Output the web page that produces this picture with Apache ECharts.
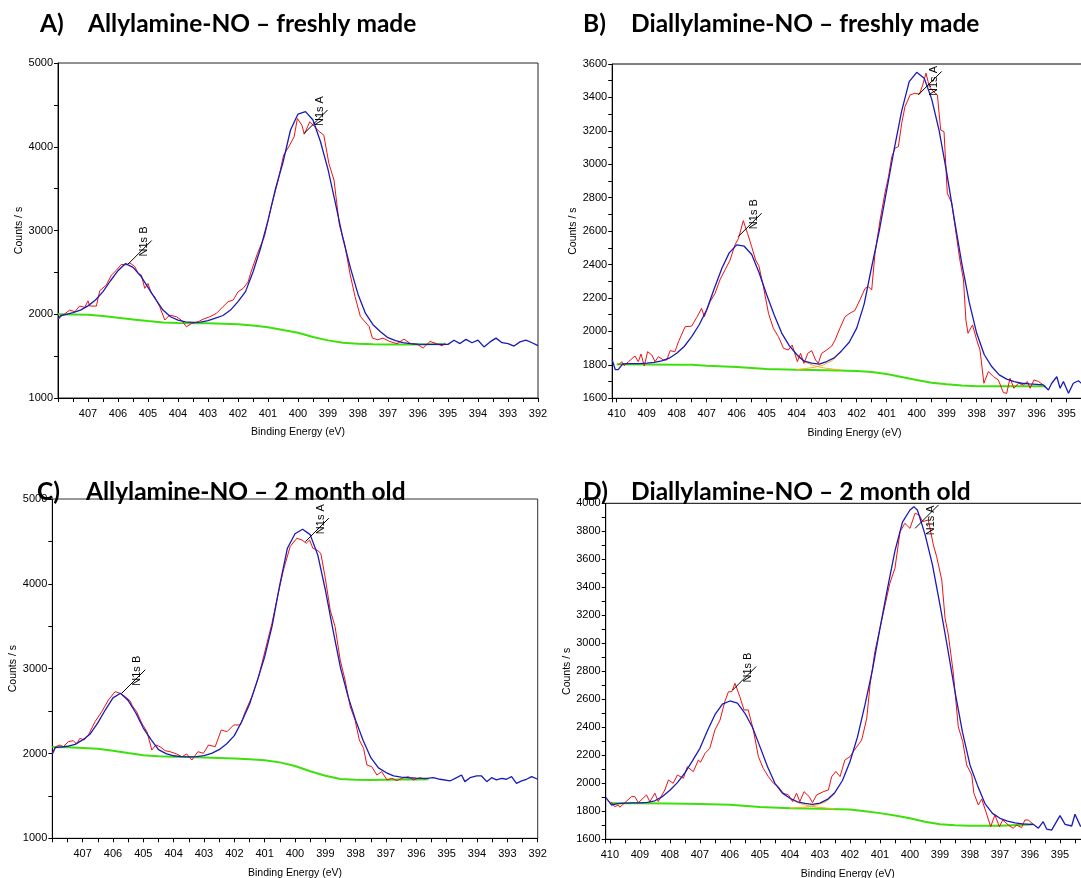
<!DOCTYPE html>
<html><head><meta charset="utf-8">
<script src="https://cdn.jsdelivr.net/npm/echarts@6/dist/echarts.min.js"></script>
<style>html,body{margin:0;padding:0;background:#fff}#c{width:1081px;height:878px}</style>
</head><body><div id="c"></div>
<script>
// ---------------- Panel A : Allylamine-NO – freshly made ----------------
const aRawE = [408.00,407.83,407.61,407.44,407.28,407.11,407.00,406.94,406.72,406.61,406.39,406.22,406.05,405.89,405.72,405.61,405.44,405.33,405.22,405.11,405.00,404.89,404.78,404.61,404.44,404.28,404.05,403.89,403.72,403.55,403.33,403.17,402.94,402.72,402.50,402.33,402.16,402.00,401.83,401.66,401.58,401.35,401.12,400.89,400.66,400.48,400.31,400.13,400.02,399.87,399.79,399.61,399.44,399.32,399.14,398.97,398.80,398.62,398.45,398.27,398.10,397.92,397.63,397.52,397.34,397.17,396.94,396.70,396.47,396.24,396.00,395.83,395.60,395.37,395.20,395.08];
const aRawC = [1950,1990,2050,2030,2098,2082,2160,2098,2098,2280,2348,2467,2527,2595,2590,2614,2570,2487,2467,2309,2368,2249,2209,2090,1931,1990,1970,1931,1851,1890,1910,1940,1970,2010,2090,2150,2169,2268,2308,2388,2490,2728,2926,3284,3602,3900,3999,4118,4337,4257,4150,4297,4237,4190,4138,3800,3602,3065,2850,2490,2212,1973,1854,1715,1695,1715,1675,1648,1703,1648,1636,1596,1675,1648,1624,1656];
const aFitE = [408.00,407.90,407.75,407.50,407.25,407.00,406.75,406.50,406.25,406.00,405.75,405.50,405.25,405.00,404.75,404.50,404.25,404.00,403.75,403.50,403.25,403.00,402.75,402.50,402.25,402.00,401.75,401.50,401.25,401.00,400.75,400.50,400.25,400.00,399.75,399.50,399.25,399.00,398.75,398.50,398.25,398.00,397.75,397.50,397.25,397.00,396.75,396.50,396.25,396.00,395.75,395.50,395.25,395.00,394.80,394.60,394.40,394.20,394.00,393.80,393.60,393.40,393.20,393.00,392.80,392.60,392.40,392.20,392.00];
const aFitC = [1940,1985,1995,2020,2050,2100,2170,2270,2400,2520,2605,2560,2460,2320,2180,2050,1970,1930,1910,1903,1905,1925,1955,1985,2050,2150,2270,2505,2785,3120,3500,3815,4200,4390,4420,4320,4060,3730,3320,2900,2550,2240,2010,1875,1790,1720,1685,1662,1650,1643,1640,1640,1640,1640,1690,1650,1700,1660,1690,1610,1670,1715,1660,1650,1620,1670,1690,1660,1625];
const aBgE = [408.0,407.5,407.0,406.5,406.0,405.5,405.0,404.5,404.0,403.5,403.0,402.5,402.0,401.5,401.0,400.5,400.0,399.5,399.0,398.5,398.0,397.5,397.0,396.5,396.0,395.5,395.1];
const aBgC = [2000,1998,1995,1980,1958,1938,1918,1902,1897,1894,1892,1888,1882,1865,1845,1812,1780,1728,1688,1660,1647,1642,1640,1640,1640,1641,1643];
const aPeaks = [[405.66,2600,'N1s B'],[399.80,4158,'N1s A']];

// ---------------- Panel B : Diallylamine-NO – freshly made ----------------
const bRawE = [409.94,409.83,409.75,409.61,409.39,409.28,409.19,409.08,408.97,408.83,408.72,408.61,408.44,408.33,408.22,408.06,407.94,407.72,407.50,407.33,407.17,407.08,406.89,406.72,406.56,406.39,406.22,406.06,405.94,405.78,405.64,405.50,405.37,405.26,405.11,404.94,404.78,404.61,404.44,404.28,404.15,403.98,403.87,403.76,403.63,403.50,403.37,403.28,403.17,403.00,402.83,402.72,402.56,402.39,402.22,402.06,401.89,401.72,401.61,401.50,401.39,401.22,401.06,400.94,400.83,400.72,400.61,400.50,400.39,400.22,400.06,399.91,399.80,399.69,399.58,399.44,399.31,399.20,399.09,398.98,398.83,398.69,398.56,398.44,398.36,398.29,398.14,398.00,397.89,397.76,397.61,397.44,397.28,397.11,397.00,396.89,396.76,396.61,396.44,396.31,396.22,396.09,395.94,395.78];
const bRawC = [1799,1819,1795,1819,1853,1819,1865,1793,1879,1859,1819,1849,1829,1829,1885,1879,1939,2028,2032,2084,2138,2088,2178,2228,2308,2368,2427,2517,2557,2663,2587,2507,2427,2392,2268,2108,2019,1969,1899,1889,1919,1819,1869,1809,1869,1885,1829,1809,1869,1889,1913,1949,2019,2088,2110,2125,2190,2258,2268,2248,2467,2667,2827,2926,3046,3096,3106,3245,3345,3415,3425,3420,3474,3545,3464,3435,3415,3205,3195,2827,2767,2587,2427,2308,2068,1989,2039,1949,1889,1690,1760,1729,1710,1634,1630,1720,1660,1690,1680,1700,1660,1710,1700,1680];
const bFitE = [410.15,410.05,409.95,409.80,409.50,409.25,409.00,408.75,408.50,408.25,408.00,407.75,407.50,407.25,407.00,406.75,406.50,406.25,406.00,405.75,405.50,405.25,405.00,404.75,404.50,404.25,404.00,403.75,403.50,403.25,403.00,402.75,402.50,402.25,402.00,401.75,401.50,401.25,401.00,400.75,400.50,400.25,400.00,399.75,399.50,399.25,399.00,398.75,398.50,398.25,398.00,397.75,397.50,397.25,397.00,396.75,396.50,396.25,396.00,395.78,395.61,395.50,395.33,395.22,395.11,394.94,394.78,394.61,394.45];
const bFitC = [1830,1772,1772,1806,1808,1808,1810,1815,1824,1840,1870,1910,1969,2040,2130,2255,2375,2470,2518,2510,2460,2350,2220,2098,1990,1915,1862,1822,1810,1805,1820,1842,1885,1935,2020,2165,2387,2600,2846,3090,3320,3495,3550,3515,3390,3200,2950,2675,2410,2175,1989,1862,1790,1740,1715,1700,1690,1686,1683,1680,1650,1690,1729,1660,1700,1630,1690,1705,1680];
const bBgE = [410.0,409.0,408.0,407.5,407.0,406.0,405.0,404.0,403.0,402.0,401.5,401.0,400.5,400.0,399.5,399.0,398.5,398.0,397.0,396.0,395.7];
const bBgC = [1803,1802,1801,1800,1795,1787,1775,1771,1768,1763,1757,1745,1728,1710,1693,1684,1676,1672,1672,1672,1672];
const bCompBE = [404.0,403.7,403.4,403.1,402.8,402.5];
const bCompBC = [1852,1815,1794,1782,1775,1769];
const bCompAE = [404.0,403.7,403.4,403.1,402.8,402.5];
const bCompAC = [1773,1778,1786,1800,1828,1880];
const bPeaks = [[405.95,2567,'N1s B'],[399.95,3415,'N1s A']];

// ---------------- Panel C : Allylamine-NO – 2 month old ----------------
const cRawE = [408.00,407.89,407.75,407.64,407.47,407.31,407.20,407.09,406.95,406.81,406.59,406.37,406.15,405.93,405.77,405.60,405.44,405.36,405.22,405.05,404.88,404.72,404.59,404.45,404.28,404.12,403.90,403.73,403.57,403.40,403.20,403.02,402.85,402.63,402.43,402.24,402.02,401.80,401.64,401.42,401.20,400.98,400.76,400.54,400.38,400.16,399.94,399.77,399.63,399.52,399.41,399.28,399.15,399.00,398.84,398.68,398.51,398.35,398.18,398.02,397.88,397.74,397.63,397.47,397.30,397.14,396.97,396.81,396.64,396.48,396.26,396.10,395.88,395.71];
const cRawC = [2002,2080,2100,2080,2139,2151,2112,2179,2159,2218,2375,2493,2631,2729,2710,2670,2623,2560,2493,2356,2257,2041,2100,2080,2033,2021,1994,1961,1994,1923,2021,2002,2100,2080,2277,2257,2336,2336,2493,2670,2905,3220,3535,3910,4163,4440,4537,4517,4478,4517,4419,4400,4360,4065,3692,3496,3102,2866,2551,2394,2159,2061,1864,1844,1746,1786,1688,1707,1680,1707,1727,1688,1715,1696];
const cFitE = [408.00,407.90,407.75,407.50,407.25,407.00,406.75,406.50,406.25,406.00,405.75,405.50,405.25,405.00,404.75,404.50,404.25,404.00,403.75,403.50,403.25,403.00,402.75,402.50,402.25,402.00,401.75,401.50,401.25,401.00,400.75,400.50,400.25,400.00,399.75,399.50,399.25,399.00,398.75,398.50,398.25,398.00,397.75,397.50,397.25,397.00,396.75,396.50,396.25,396.00,395.65,395.44,395.22,394.89,394.67,394.51,394.40,394.23,394.01,393.85,393.68,393.52,393.36,393.19,393.03,392.86,392.70,392.53,392.37,392.20,392.00];
const cFitC = [1990,2070,2076,2085,2108,2160,2230,2360,2515,2655,2710,2625,2480,2300,2165,2045,1998,1973,1964,1961,1964,1975,2002,2045,2115,2210,2380,2580,2850,3140,3510,3990,4420,4590,4643,4580,4340,3930,3460,3010,2670,2390,2150,1950,1830,1775,1735,1722,1714,1710,1707,1715,1696,1676,1715,1746,1668,1715,1735,1735,1668,1715,1688,1707,1696,1727,1648,1676,1696,1727,1696];
const cBgE = [408.0,407.5,407.0,406.5,406.0,405.5,405.0,404.5,404.0,403.5,403.0,402.5,402.0,401.5,401.0,400.5,400.0,399.5,399.0,398.5,398.0,397.5,397.0,396.5,396.0,395.6];
const cBgC = [2075,2072,2065,2055,2032,2005,1980,1966,1960,1957,1953,1948,1940,1932,1920,1895,1852,1790,1738,1700,1690,1688,1690,1692,1694,1696];
const cPeaks = [[405.71,2710,'N1s B'],[399.66,4497,'N1s A']];

// ---------------- Panel D : Diallylamine-NO – 2 month old ----------------
const dRawE = [409.96,409.84,409.72,409.67,409.50,409.28,409.17,409.05,408.78,408.67,408.50,408.39,408.17,408.05,407.89,407.75,407.55,407.42,407.22,407.05,406.98,406.83,406.67,406.50,406.33,406.17,406.05,405.94,405.83,405.67,405.53,405.39,405.22,405.05,404.89,404.72,404.55,404.39,404.22,404.05,403.91,403.78,403.67,403.53,403.36,403.25,403.11,402.89,402.72,402.61,402.47,402.33,402.17,402.00,401.89,401.61,401.44,401.33,401.17,401.00,400.83,400.67,400.50,400.33,400.17,400.00,399.83,399.69,399.58,399.39,399.22,399.11,398.94,398.83,398.72,398.56,398.39,398.24,398.11,397.94,397.87,397.72,397.61,397.47,397.31,397.17,397.02,396.91,396.72,396.56,396.44,396.28,396.17,396.06,395.89];
const dRawC = [1869,1833,1845,1829,1862,1905,1905,1862,1917,1869,1929,1869,1952,2024,2000,2059,2036,2119,2083,2167,2150,2214,2250,2381,2452,2583,2654,2654,2714,2619,2524,2524,2381,2190,2107,2048,2000,1976,1929,1917,1869,1929,1869,1940,1905,1862,1917,1940,1952,2047,2085,2048,2166,2190,2226,2309,2464,2702,2940,3107,3274,3429,3536,3797,3857,3821,3929,3916,3869,3881,3702,3619,3452,3179,3059,2797,2404,2297,2131,2059,1929,1845,1888,1797,1690,1774,1690,1738,1702,1679,1702,1683,1738,1738,1707];
const dFitE = [410.14,410.00,409.94,409.75,409.50,409.25,409.00,408.75,408.50,408.25,408.00,407.75,407.50,407.25,407.00,406.75,406.50,406.25,406.00,405.75,405.50,405.25,405.00,404.75,404.50,404.25,404.00,403.75,403.50,403.25,403.00,402.75,402.50,402.25,402.00,401.75,401.50,401.25,401.00,400.75,400.50,400.25,400.00,399.87,399.75,399.50,399.25,399.00,398.75,398.50,398.25,398.00,397.75,397.50,397.25,397.00,396.75,396.50,396.25,396.00,395.89,395.72,395.56,395.44,395.28,395.00,394.83,394.61,394.50,394.31];
const dFitC = [1900,1860,1845,1855,1858,1860,1860,1864,1875,1905,1950,2005,2075,2160,2250,2375,2490,2565,2588,2572,2500,2400,2262,2120,2000,1930,1893,1868,1857,1850,1858,1885,1935,2020,2154,2330,2560,2810,3107,3390,3660,3865,3952,3976,3950,3780,3560,3274,2970,2655,2365,2131,1985,1855,1785,1750,1730,1717,1710,1707,1707,1679,1726,1672,1666,1769,1707,1695,1779,1690];
const dBgE = [410.0,409.0,408.0,407.0,406.0,405.0,404.0,403.0,402.0,401.5,401.0,400.5,400.0,399.5,399.0,398.5,398.0,397.0,396.0,395.9];
const dBgC = [1857,1857,1855,1852,1846,1830,1822,1818,1813,1800,1787,1770,1750,1725,1708,1700,1697,1697,1705,1707];
const dCompBE = [404.0,403.7,403.4,403.1,402.8,402.5];
const dCompBC = [1888,1858,1840,1830,1823,1818];
const dCompAE = [404.0,403.7,403.4,403.1,402.8,402.5];
const dCompAC = [1823,1826,1833,1846,1868,1925];
const dPeaks = [[405.91,2666,'N1s B'],[399.83,3821,'N1s A']];

const titles = [['A)','Allylamine-NO – freshly made'],['B)','Diallylamine-NO – freshly made'],['C)','Allylamine-NO – 2 month old'],['D)','Diallylamine-NO – 2 month old']];

// ---------------- rendering ----------------
const FONT = 'Liberation Sans, Arial, sans-serif';
const RED = '#ee1111', BLUE = '#1a1ab8', GREEN = '#3ee00c', ORANGE = '#ffaa22';
function pairs(E, C) { return E.map((e, k) => [e, C[k]]); }
function xAx(i, min, max) {
  return {type:'value', gridIndex:i, inverse:true, min:min, max:max, interval:1,
    axisLine:{show:true, onZero:false, lineStyle:{color:'#000', width:1}},
    axisTick:{show:true, length:4, lineStyle:{color:'#000'}},
    minorTick:{show:true, splitNumber:2, length:4, lineStyle:{color:'#000'}},
    axisLabel:{color:'#000', fontSize:11, fontFamily:FONT, margin:10, showMaxLabel:false, formatter:v => String(v)},
    splitLine:{show:false}, minorSplitLine:{show:false},
    name:'Binding Energy (eV)', nameLocation:'middle', nameGap:29,
    nameTextStyle:{color:'#000', fontSize:10.5, fontFamily:FONT}};
}
function yAx(i, min, max, iv) {
  return {type:'value', gridIndex:i, min:min, max:max, interval:iv,
    axisLine:{show:true, onZero:false, lineStyle:{color:'#000', width:1}},
    axisTick:{show:true, length:4, lineStyle:{color:'#000'}},
    minorTick:{show:true, splitNumber:2, length:4, lineStyle:{color:'#000'}},
    axisLabel:{color:'#000', fontSize:11, fontFamily:FONT, margin:5, formatter:v => String(v)},
    splitLine:{show:false}, minorSplitLine:{show:false},
    name:'Counts / s', nameLocation:'middle', nameGap:33,
    nameTextStyle:{color:'#000', fontSize:10.5, fontFamily:FONT}};
}
function ln(i, E, C, color, width, z) {
  return {type:'line', xAxisIndex:i, yAxisIndex:i, data:pairs(E, C), symbol:'none', showSymbol:false,
    lineStyle:{color:color, width:width}, z:z, silent:true, animation:false};
}
function peaks(i, P) {
  return {type:'custom', xAxisIndex:i, yAxisIndex:i, data:P.map(p => [p[0], p[1]]), clip:false, z:20, silent:true,
    renderItem: function (params, api) {
      const p = api.coord([api.value(0), api.value(1)]);
      const cs = params.coordSys;
      const tx = p[0] + 15.5, ty = Math.max(p[1] - 22.5, cs.y + 17);
      return {type:'group', children:[
        {type:'line', shape:{x1:p[0], y1:p[1], x2:p[0] + 23.5, y2:p[1] - 23.5}, style:{stroke:'#000', lineWidth:1}},
        {type:'text', x:tx, y:ty, rotation:Math.PI / 2,
          style:{text:P[params.dataIndex][2], fill:'#000', fontSize:11, fontFamily:FONT, align:'center', verticalAlign:'middle'}}
      ]};
    }};
}

const G = {show:true, borderWidth:1, outerBoundsMode:'none', containLabel:false};
const grids = [
  Object.assign({left:58, top:63, width:480, height:335, borderColor:'#222'}, G),
  Object.assign({left:612.2, top:64, width:484.5, height:334.3, borderColor:'#000'}, G),
  Object.assign({left:52.3, top:499, width:485.4, height:339.3, borderColor:'#333'}, G),
  Object.assign({left:605.7, top:503.3, width:484.3, height:336, borderColor:'#000'}, G)
];
const titlePos = [[40, 88, 12], [583, 631, 12], [37, 86, 480], [583, 631, 480]];
const TF = 'Lato, Liberation Sans, sans-serif';
const graphic = [];
titles.forEach((t, i) => {
  graphic.push({type:'text', left:titlePos[i][0], top:titlePos[i][2], style:{text:t[0], fontSize:24.5, fontWeight:'bold', fontFamily:TF, fill:'#000'}});
  graphic.push({type:'text', left:titlePos[i][1], top:titlePos[i][2], style:{text:t[1], fontSize:24.5, fontWeight:'bold', fontFamily:TF, fill:'#000'}});
});

const series = [
  ln(0, aBgE, aBgC, GREEN, 2, 2), ln(0, aRawE, aRawC, RED, 1, 3), ln(0, aFitE, aFitC, BLUE, 1.3, 4), peaks(0, aPeaks),
  ln(1, bBgE, bBgC, GREEN, 2, 2), ln(1, bCompBE, bCompBC, ORANGE, 1, 2), ln(1, bCompAE, bCompAC, ORANGE, 1, 2),
  ln(1, bRawE, bRawC, RED, 1, 3), ln(1, bFitE, bFitC, BLUE, 1.3, 4), peaks(1, bPeaks),
  ln(2, cBgE, cBgC, GREEN, 2, 2), ln(2, cRawE, cRawC, RED, 1, 3), ln(2, cFitE, cFitC, BLUE, 1.3, 4), peaks(2, cPeaks),
  ln(3, dBgE, dBgC, GREEN, 2, 2), ln(3, dCompBE, dCompBC, ORANGE, 1, 2), ln(3, dCompAE, dCompAC, ORANGE, 1, 2),
  ln(3, dRawE, dRawC, RED, 1, 3), ln(3, dFitE, dFitC, BLUE, 1.3, 4), peaks(3, dPeaks)
];

const chart = echarts.init(document.getElementById('c'), null, {renderer:'canvas'});
chart.setOption({
  animation:false, backgroundColor:'#fff',
  grid:grids,
  xAxis:[xAx(0, 392, 408), xAx(1, 394, 410.15), xAx(2, 392, 408), xAx(3, 394, 410.14)],
  yAxis:[yAx(0, 1000, 5000, 1000), yAx(1, 1600, 3600, 200), yAx(2, 1000, 5000, 1000), yAx(3, 1600, 4000, 200)],
  graphic:graphic,
  series:series
});
</script>
</body></html>
